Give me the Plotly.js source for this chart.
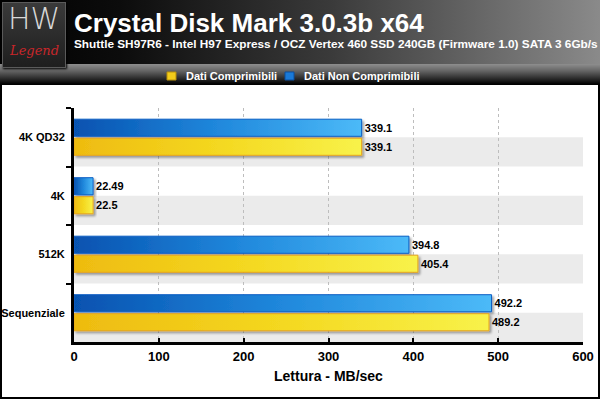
<!DOCTYPE html>
<html><head><meta charset="utf-8">
<script src="https://cdn.plot.ly/plotly-3.0.1.min.js"></script>
<style>
html,body{margin:0;padding:0;background:#fff;}
#wrap{position:relative;width:600px;height:399px;overflow:hidden;background:#fff;}
#hdr{position:absolute;left:0;top:0;width:600px;height:64px;background:linear-gradient(to right,#000 0%,#0c0c0c 20%,#3a3a3a 55%,#8a8a8a 100%);}
#lgb{position:absolute;left:0;top:64px;width:600px;height:20px;background:linear-gradient(to bottom,#8e8e8e 0%,#646464 35%,#202020 80%,#000 100%);border-bottom:1px solid #000;}
#frame{position:absolute;left:0;top:0;width:596px;height:395px;border:2px solid #000;}
#logo{position:absolute;left:2px;top:2px;width:62px;height:64px;background:linear-gradient(to bottom,#3a3a3a,#1e1e1e);border:1px solid #5a5a5a;box-shadow:1px 1px 2px #000;}
#chart{position:absolute;left:0;top:0;width:600px;height:399px;}
</style></head>
<body>
<div id="wrap">
<div id="frame"></div>
<div id="hdr"></div>
<div id="lgb"></div>
<div id="logo"></div>
<div id="chart"></div>
</div>
<script>
// ---- data ----
const categories = ["4K QD32", "4K", "512K", "Sequenziale"];
const nonComprimibili = [339.1, 22.49, 394.8, 492.2];
const comprimibili = [339.1, 22.5, 405.4, 489.2];
const xTicks = [0, 100, 200, 300, 400, 500, 600];
const seriesNames = ["Dati Non Comprimibili", "Dati Comprimibili"];
const titleText = "Crystal Disk Mark 3.0.3b x64";
const subtitleText = "Shuttle SH97R6 - Intel H97 Express / OCZ Vertex 460 SSD 240GB (Firmware 1.0) SATA 3 6Gb/s";
const xTitle = "Lettura - MB/sec";

// ---- layout helpers (pixel -> paper) ----
const W = 600, H = 399, ML = 74, MR = 17, MT = 108, MB = 57;
const PW = W - ML - MR, PH = H - MT - MB;
const px = v => (v - ML) / PW;
const py = v => (H - MB - v) / PH;
const FF = "Liberation Sans, Arial, sans-serif";

const traces = [
  {type: "bar", orientation: "h", name: seriesNames[0], y: categories, x: nonComprimibili,
   marker: {color: "#2a8ae0", line: {color: "#0a5ec4", width: 1}},
   texttemplate: "%{x}", textposition: "outside", cliponaxis: false,
   textfont: {family: FF, size: 11, color: "#000", weight: "bold"}, hoverinfo: "none"},
  {type: "bar", orientation: "h", name: seriesNames[1], y: categories, x: comprimibili,
   marker: {color: "#f5da20", line: {color: "#e6a41c", width: 1}},
   texttemplate: "%{x}", textposition: "outside", cliponaxis: false,
   textfont: {family: FF, size: 11, color: "#000", weight: "bold"}, hoverinfo: "none"}
];

const shapes = [];
categories.forEach((c, i) => {
  shapes.push({type: "rect", layer: "below", xref: "paper", yref: "y", x0: 0, x1: 1, y0: i, y1: i + 0.5,
    fillcolor: "#ebebeb", line: {width: 0}});
});
// legend squares
shapes.push({type: "rect", xref: "paper", yref: "paper", x0: px(167), x1: px(176), y0: py(80), y1: py(72),
  fillcolor: "#f2cc1a", line: {color: "#b8900a", width: 1}});
shapes.push({type: "rect", xref: "paper", yref: "paper", x0: px(285), x1: px(294), y0: py(80), y1: py(72),
  fillcolor: "#1a7ad8", line: {color: "#0a4ea0", width: 1}});

const annotations = [
  {text: titleText, xref: "paper", yref: "paper", x: px(72), y: py(23), xanchor: "left", yanchor: "middle",
   showarrow: false, font: {family: FF, size: 26, color: "#fff", weight: "bold"}},
  {text: subtitleText, xref: "paper", yref: "paper", x: px(72), y: py(44), xanchor: "left", yanchor: "middle",
   showarrow: false, font: {family: FF, size: 11.8, color: "#fff", weight: "bold"}},
  {text: seriesNames[1], xref: "paper", yref: "paper", x: px(184), y: py(76), xanchor: "left", yanchor: "middle",
   showarrow: false, font: {family: FF, size: 11, color: "#fff", weight: "bold"}},
  {text: seriesNames[0], xref: "paper", yref: "paper", x: px(302), y: py(76), xanchor: "left", yanchor: "middle",
   showarrow: false, font: {family: FF, size: 11, color: "#fff", weight: "bold"}},
  {text: xTitle, xref: "paper", yref: "paper", x: 0.5, y: py(376), xanchor: "center", yanchor: "middle",
   showarrow: false, font: {family: FF, size: 14, color: "#000", weight: "bold"}},
  {text: "HW", xref: "paper", yref: "paper", x: px(34), y: py(18), xanchor: "center", yanchor: "middle",
   showarrow: false, font: {family: "DejaVu Sans", size: 30, color: "#d8d8d8", weight: 200}},
  {text: "<i>Legend</i>", xref: "paper", yref: "paper", x: px(34), y: py(50), xanchor: "center", yanchor: "middle",
   showarrow: false, font: {family: "DejaVu Serif", size: 13, color: "#c8262a"}}
];

const layout = {
  width: W, height: H,
  margin: {l: ML, r: MR, t: MT, b: MB, pad: 0},
  paper_bgcolor: "rgba(0,0,0,0)", plot_bgcolor: "rgba(0,0,0,0)",
  showlegend: false,
  barmode: "group", bargap: 0.35, bargroupgap: 0.1,
  font: {family: FF, color: "#000"},
  xaxis: {range: [0, 600], tickvals: xTicks, ticktext: xTicks.map(String),
    showgrid: true, gridcolor: "#bdbdbd", griddash: "dot", gridwidth: 1,
    zeroline: false, showline: true, linecolor: "#000", linewidth: 3,
    ticks: "inside", ticklen: 4, tickwidth: 2, tickcolor: "#000",
    tickfont: {family: FF, size: 13, color: "#000", weight: "bold"}, fixedrange: true},
  yaxis: {type: "category", range: [3.5, -0.5], showgrid: false, zeroline: false,
    showline: true, linecolor: "#000", linewidth: 3,
    ticks: "outside", tickson: "boundaries", ticklen: 5, tickwidth: 2, tickcolor: "#000",
    ticklabelstandoff: 4,
    tickfont: {family: FF, size: 11, color: "#000", weight: "bold"}, fixedrange: true},
  shapes: shapes, annotations: annotations
};

Plotly.newPlot("chart", traces, layout, {staticPlot: true, displayModeBar: false}).then(gd => {
  const NS = "http://www.w3.org/2000/svg";
  const svg = gd.querySelector(".main-svg");
  let defs = svg.querySelector("defs");
  if (!defs) { defs = document.createElementNS(NS, "defs"); svg.insertBefore(defs, svg.firstChild); }
  function grad(id, stops) {
    const g = document.createElementNS(NS, "linearGradient");
    g.setAttribute("id", id); g.setAttribute("x1", "0"); g.setAttribute("y1", "0");
    g.setAttribute("x2", "1"); g.setAttribute("y2", "0");
    stops.forEach(s => {
      const st = document.createElementNS(NS, "stop");
      st.setAttribute("offset", s[0]); st.setAttribute("stop-color", s[1]);
      g.appendChild(st);
    });
    defs.appendChild(g);
  }
  grad("gBlue", [["0", "#0652b0"], ["0.5", "#2088dc"], ["1", "#4cbaf8"]]);
  grad("gYel", [["0", "#eebb10"], ["0.5", "#f4d820"], ["1", "#f8f24a"]]);
  const f = document.createElementNS(NS, "filter");
  f.setAttribute("id", "shd"); f.setAttribute("x", "-10%"); f.setAttribute("y", "-30%");
  f.setAttribute("width", "130%"); f.setAttribute("height", "180%");
  const ds = document.createElementNS(NS, "feDropShadow");
  ds.setAttribute("dx", "2"); ds.setAttribute("dy", "2"); ds.setAttribute("stdDeviation", "1");
  ds.setAttribute("flood-color", "#000"); ds.setAttribute("flood-opacity", "0.35");
  f.appendChild(ds); defs.appendChild(f);
  const tr = gd.querySelectorAll(".barlayer .trace");
  tr.forEach((t, i) => {
    t.querySelectorAll(".point path").forEach(p => {
      p.style.fill = i === 0 ? "url(#gBlue)" : "url(#gYel)";
      p.setAttribute("filter", "url(#shd)");
    });
  });
});
</script>
</body></html>
